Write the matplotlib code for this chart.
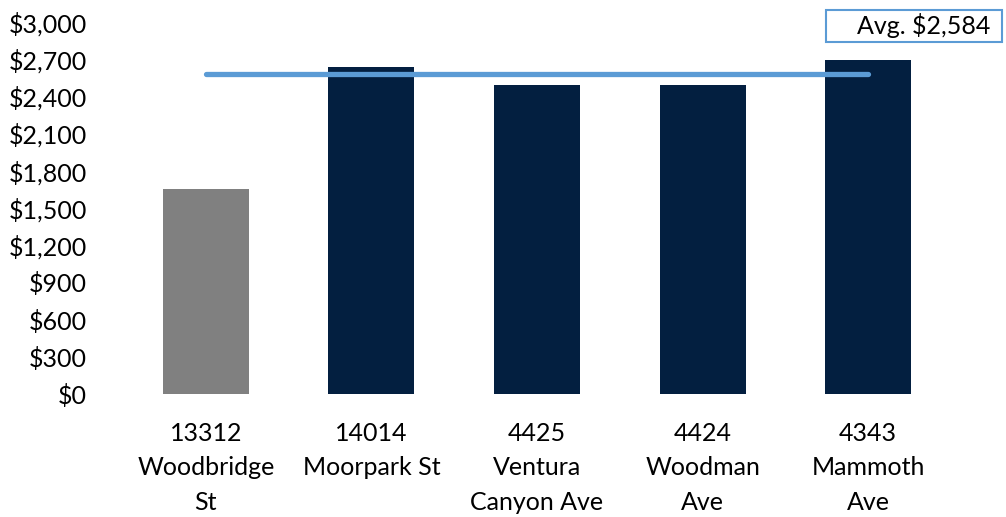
import matplotlib
matplotlib.use("Agg")
import matplotlib.pyplot as plt
from matplotlib.patches import Rectangle
from matplotlib.ticker import FuncFormatter, MultipleLocator

categories = ["13312\nWoodbridge\nSt", "14014\nMoorpark St", "4425\nVentura\nCanyon Ave",
              "4424\nWoodman\nAve", "4343\nMammoth\nAve"]
values = [1655, 2640, 2495, 2495, 2695]
bar_colors = ["#808080", "#031F40", "#031F40", "#031F40", "#031F40"]
average = 2584

plt.rcParams['font.family'] = ['Lato', 'DejaVu Sans']

fig = plt.figure(figsize=(10.06, 5.17), dpi=100)
ax = fig.add_axes([0.1223, 0.238, 0.823, 0.719])

x = list(range(len(categories)))
ax.bar(x, values, width=0.52, color=bar_colors, zorder=2)
ax.plot([x[0], x[-1]], [average, average], color="#5B9BD5", linewidth=3.8,
        solid_capstyle="round", zorder=3)

ax.set_xlim(-0.5, len(categories) - 0.5)
ax.set_ylim(0, 3000)
ax.yaxis.set_major_locator(MultipleLocator(300))
ax.yaxis.set_major_formatter(FuncFormatter(lambda v, p: f"${v:,.0f}"))
ax.set_xticks(x)
ax.set_xticklabels(categories, linespacing=1.6)
ax.tick_params(axis='both', length=0, labelsize=18, colors="#000000")
ax.tick_params(axis='y', pad=26)
ax.tick_params(axis='x', pad=20)
for s in ax.spines.values():
    s.set_visible(False)

fig.patches.append(Rectangle((0.8215, 0.919), 0.175, 0.062, transform=fig.transFigure,
                             facecolor="white", edgecolor="#5B9BD5", linewidth=1.5))
fig.text(0.9185, 0.950, f"Avg. ${average:,}", fontsize=18, ha="center", va="center")

fig.savefig("out.png", dpi=100)
